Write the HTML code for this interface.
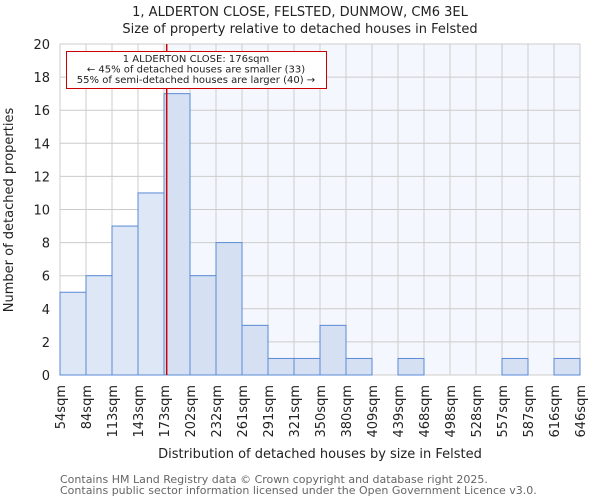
<!DOCTYPE html>
<html><head><meta charset="utf-8"><style>
body{margin:0;background:#fff;font-family:"DejaVu Sans","Liberation Sans",sans-serif;}
svg text{font-family:"DejaVu Sans","Liberation Sans",sans-serif;}
</style></head><body>
<svg id="chart" width="600" height="500" xmlns="http://www.w3.org/2000/svg">
<text x="300" y="16" text-anchor="middle" font-size="13" fill="#222">1, ALDERTON CLOSE, FELSTED, DUNMOW, CM6 3EL</text>
<text x="300" y="33" text-anchor="middle" font-size="13" fill="#222">Size of property relative to detached houses in Felsted</text>
<g id="plot"></g>
<text x="320" y="458" text-anchor="middle" font-size="13" fill="#222">Distribution of detached houses by size in Felsted</text>
<text transform="translate(13,210) rotate(-90)" text-anchor="middle" font-size="13" fill="#222">Number of detached properties</text>
<text x="60" y="483" font-size="11" fill="#666">Contains HM Land Registry data © Crown copyright and database right 2025.</text>
<text x="60" y="494" font-size="11" fill="#666">Contains public sector information licensed under the Open Government Licence v3.0.</text>
</svg>
<script>
const binLabels=["54sqm","84sqm","113sqm","143sqm","173sqm","202sqm","232sqm","261sqm","291sqm","321sqm","350sqm","380sqm","409sqm","439sqm","468sqm","498sqm","528sqm","557sqm","587sqm","616sqm","646sqm"];
const binEdges=[54,84,113,143,173,202,232,261,291,321,350,380,409,439,468,498,528,557,587,616,646];
const counts=[5,6,9,11,17,6,8,3,1,1,3,1,0,1,0,0,0,1,0,1];
const yTicks=[0,2,4,6,8,10,12,14,16,18,20];
const propertySize=176;
const annotationLines=["1 ALDERTON CLOSE: 176sqm","← 45% of detached houses are smaller (33)","55% of semi-detached houses are larger (40) →"];

const X0=60,X1=580,Y0=375,Y1=44,YMAX=20;
const n=counts.length;
const xb=i=>X0+(X1-X0)*i/n;
const xv=v=>{let i=0;while(i<n-1&&v>binEdges[i+1])i++;return xb(i)+(v-binEdges[i])/(binEdges[i+1]-binEdges[i])*(X1-X0)/n;};
const y=v=>Y0-(Y0-Y1)*v/YMAX;
const NS="http://www.w3.org/2000/svg";
const g=document.getElementById('plot');
function mk(t,a){const e=document.createElementNS(NS,t);for(const k in a)e.setAttribute(k,a[k]);g.appendChild(e);return e;}
const px=xv(propertySize);
let e=mk('rect',{x:px,y:Y1,width:X1-px,height:Y0-Y1,fill:'#f4f7fd'});


for(let i=0;i<=n;i++){e=mk('line',{x1:xb(i),x2:xb(i),y1:Y1,y2:Y0,stroke:'#cccccc','stroke-width':1});

}
yTicks.forEach(t=>{e=mk('line',{x1:X0,x2:X1,y1:y(t),y2:y(t),stroke:'#cccccc','stroke-width':1});


e=mk('text',{x:X0-10,y:y(t)+5,'text-anchor':'end','font-size':13,fill:'#222'});e.textContent=t;

});
counts.forEach((c,i)=>{if(c<=0)return;
const left=binEdges[i+1]<=propertySize;
e=mk('rect',{x:xb(i),y:y(c),width:xb(i+1)-xb(i),height:Y0-y(c),fill:left?'#dde7f5':'#d5e1f3',stroke:'#5a8ad6','stroke-width':1});

});
binLabels.forEach((l,i)=>{const xx=xb(i);
e=mk('text',{transform:`translate(${xx+5},${Y0+10}) rotate(-90)`,'text-anchor':'end','font-size':13,fill:'#222'});e.textContent=l;

});
e=mk('line',{x1:px,x2:px,y1:Y1,y2:Y0,stroke:'#cc0000','stroke-width':1.5});


e=mk('rect',{x:66.5,y:51.5,width:260,height:37,fill:'#fff',stroke:'#cc0000','stroke-width':1});


annotationLines.forEach((t,i)=>{e=mk('text',{x:196,y:62+i*10.5,'text-anchor':'middle','font-size':10,fill:'#222'});e.textContent=t;

});
</script>
</body></html>
